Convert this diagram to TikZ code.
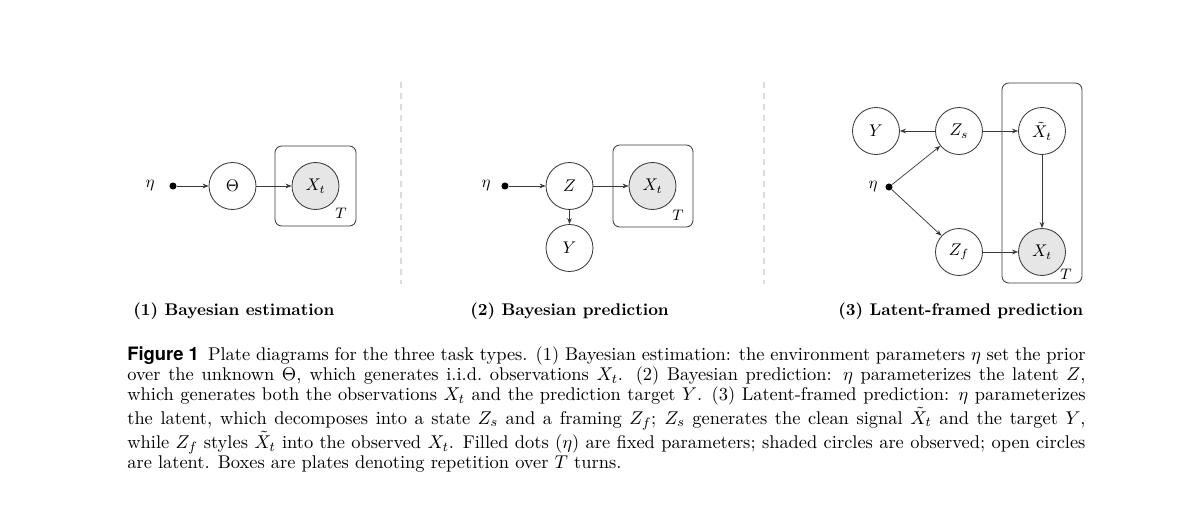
\documentclass[tikz,border=0pt]{standalone}
\usepackage{amsmath,amssymb}
\usepackage{fontspec}
\usepackage{tikz}
\usetikzlibrary{arrows.meta,positioning}
\newfontfamily\headfont{TeX Gyre Heros}
\definecolor{ink}{HTML}{3A3A3A}
\definecolor{shade}{HTML}{E6E6E6}
\definecolor{rule}{HTML}{DCDCDC}

\tikzset{
  var/.style={circle,draw=ink,line width=0.5pt,minimum size=27.8pt,inner sep=0pt},
  obs/.style={var,fill=shade},
  param/.style={circle,fill=black,minimum size=4.2pt,inner sep=0pt},
  edge/.style={->,draw=ink,line width=0.45pt},
  plate/.style={draw=ink,rounded corners=4pt,line width=0.5pt},
  sep/.style={draw=rule,line width=0.7pt,dash pattern=on 3.5pt off 3pt},
  sub/.style={anchor=base west,font=\bfseries,inner sep=0pt}
}

\begin{document}
\begin{tikzpicture}[x=0.0208cm,y=-0.0208cm,>={Stealth[length=3.6pt,width=2.8pt]}]
  \useasboundingbox (0,0) rectangle (1199,519);

  % (1) Bayesian estimation
  \node[param] (dot1) at (173,186) {};
  \node (eta1) at (150,186) {$\eta$};
  \node[var] (theta) at (232.5,186) {$\Theta$};
  \node[obs] (x1) at (315.5,186) {$X_t$};
  \draw[plate] (275,146) rectangle (356,226);
  \node (t1) at (341,213) {\small$T$};
  \draw[edge] (dot1) -- (theta);
  \draw[edge] (theta) -- (x1);
  \node[sub] (cap1) at (133,315) {(1) Bayesian estimation};

  \draw[sep] (401,82) -- (401,284);

  % (2) Bayesian prediction
  \node[param] (dot2) at (505,186) {};
  \node (eta2) at (486,186) {$\eta$};
  \node[var] (z) at (569.5,186) {$Z$};
  \node[obs] (x2) at (652.5,186) {$X_t$};
  \node[var] (y2) at (569.5,248) {$Y$};
  \draw[plate] (613,145) rectangle (693,227);
  \node (t2) at (678,215) {\small$T$};
  \draw[edge] (dot2) -- (z);
  \draw[edge] (z) -- (x2);
  \draw[edge] (z) -- (y2);
  \node[sub] (cap2) at (470,315) {(2) Bayesian prediction};

  \draw[sep] (764,82) -- (764,284);

  % (3) Latent-framed prediction
  \node[param] (dot3) at (889,187) {};
  \node (eta3) at (873,187) {$\eta$};
  \node[var] (y3) at (876,131) {$Y$};
  \node[var] (zs) at (959,131) {$Z_s$};
  \node[var] (xc) at (1042,131) {$\tilde{X}_t$};
  \node[var] (zf) at (959,252) {$Z_f$};
  \node[obs] (x3) at (1042,252) {$X_t$};
  \draw[plate] (1002,83) rectangle (1082,283);
  \node (t3) at (1066,274) {\small$T$};
  \draw[edge] (zs) -- (y3);
  \draw[edge] (zs) -- (xc);
  \draw[edge] (dot3) -- (zs);
  \draw[edge] (dot3) -- (zf);
  \draw[edge] (xc) -- (x3);
  \draw[edge] (zf) -- (x3);
  \node[sub] (cap3) at (838,315) {(3) Latent-framed prediction};

  % caption
  \node[anchor=north west,inner sep=0pt,text width=567pt,align=justify,
        font=\fontsize{10.9}{12}\selectfont] (caption) at (127,346)
    {{\headfont\bfseries Figure~1}\enspace Plate diagrams for the three task types. (1) Bayesian
     estimation: the environment parameters $\eta$ set the prior\linebreak over the unknown $\Theta$,
     which generates i.i.d.\ observations $X_t$. (2) Bayesian prediction: $\eta$ parameterizes
     the latent $Z$,\linebreak which generates both the observations $X_t$ and the prediction target $Y$.
     (3) Latent-framed prediction: $\eta$ parameterizes\linebreak the latent, which decomposes into a
     state $Z_s$ and a framing $Z_f$; $Z_s$ generates the clean signal $\tilde{X}_t$ and the
     target $Y$,\linebreak while $Z_f$ styles $\tilde{X}_t$ into the observed $X_t$. Filled dots ($\eta$)
     are fixed parameters; shaded circles are observed; open circles\linebreak are latent. Boxes are
     plates denoting repetition over $T$ turns.};
\end{tikzpicture}
\end{document}
